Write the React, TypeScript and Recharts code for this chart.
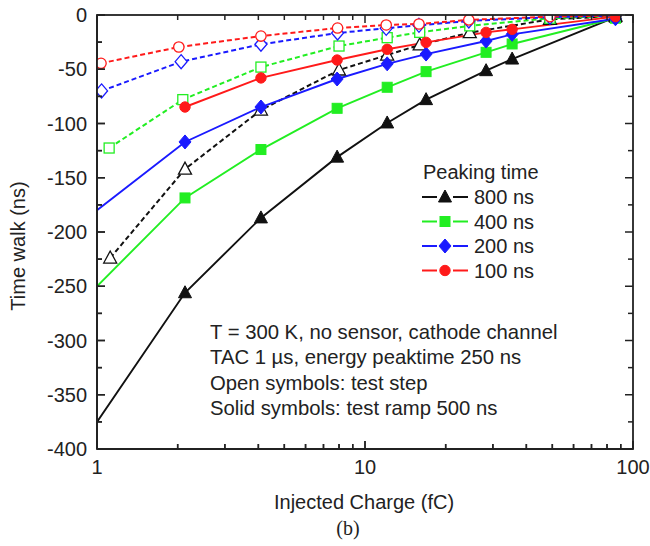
import { Line, LineChart, XAxis, YAxis } from "recharts";

// Injected charge (fC) for the test-ramp (solid) curves
const rampX = [1, 2.13, 4.09, 7.87, 12.1, 16.9, 28.3, 35.4, 86];
const ramp800 = [-375, -256, -187, -131, -99.5, -78, -51.3, -40.6, -2];
const ramp400 = [-250, -168.6, -124, -86, -66.6, -52.2, -34.4, -26.7, -3];
const ramp200 = [-180, -117, -84.8, -59, -45, -36, -24, -17.8, -3.5];
const ramp100 = [null, -84.8, -58, -41.5, -31.6, -25.2, -16, -13.2, -1.5];

// test-step (open symbols, dashed) curves
const step800X = [1.12, 2.13, 4.09, 8.0, 12.1, 16.0, 24.6, 49, 86];
const step800 = [-224, -142, -87.6, -50.7, -36.9, -27.6, -16.3, -4, -1];
const step400X = [1.11, 2.09, 4.09, 8.0, 12.1, 16.0, 24.6, 49, 86];
const step400 = [-122.6, -78, -48, -28.6, -20.9, -16, -10, -3, -1];
const step200X = [1.04, 2.06, 4.09, 7.9, 12.0, 15.9, 24.4, 49, 86];
const step200 = [-70, -43, -27, -16.6, -12.3, -9.5, -5.5, -2, -0.5];
const step100X = [1.035, 2.02, 4.09, 7.9, 12.0, 15.9, 24.4, 49, 86];
const step100 = [-44.5, -29.5, -19.4, -12, -9.2, -8.3, -4.5, -1.5, -0.5];

const peakingLabels = ["800 ns", "400 ns", "200 ns", "100 ns"];
const colors = ["#111111", "#22ee22", "#1a1aff", "#ff1a1a"];
const shapes = ["triangle", "square", "diamond", "circle"];

const xTicks = [1, 2, 3, 4, 5, 6, 7, 8, 9, 10, 20, 30, 40, 50, 60, 70, 80, 90, 100];
const xLabels = [1, 10, 100];
const yTicks = [-400, -375, -350, -325, -300, -275, -250, -225, -200, -175, -150, -125, -100, -75, -50, -25, 0];

const notes = [
  "T = 300 K, no sensor, cathode channel",
  "TAC 1 \u00b5s, energy peaktime 250 ns",
  "Open symbols: test step",
  "Solid symbols: test ramp 500 ns",
];

const FONT = "'Liberation Sans', Arial, sans-serif";
const INK = "#222";

// plot box (chart size minus margins and axis sizes)
const PLOT_L = 97;
const PLOT_T = 15;
const PLOT_W = 650 - 17 - 97;
const PLOT_H = 546 - 15 - 67 - 30;

const toPoints = (xs: number[], ys: (number | null)[]) =>
  xs.map((x, i) => ({ x, y: ys[i] })).filter((p) => p.y !== null);

const rampSeries = [ramp800, ramp400, ramp200, ramp100].map((ys, i) => ({
  data: toPoints(rampX, ys),
  color: colors[i],
  shape: shapes[i],
}));
const stepSeries = [
  [step800X, step800],
  [step400X, step400],
  [step200X, step200],
  [step100X, step100],
].map(([xs, ys], i) => ({
  data: toPoints(xs as number[], ys as number[]),
  color: colors[i],
  shape: shapes[i],
}));

function Marker({ shape, cx, cy, color, open }: any) {
  const fill = open ? "#fff" : color;
  const sw = open ? 1.3 : 1;
  if (shape === "triangle")
    return <polygon points={`${cx},${cy - 7} ${cx - 6.5},${cy + 5} ${cx + 6.5},${cy + 5}`} fill={fill} stroke={color} strokeWidth={sw} />;
  if (shape === "square")
    return <rect x={cx - 5} y={cy - 5} width={10} height={10} fill={fill} stroke={color} strokeWidth={sw} />;
  if (shape === "diamond")
    return <polygon points={`${cx},${cy - 7} ${cx + 6},${cy} ${cx},${cy + 7} ${cx - 6},${cy}`} fill={fill} stroke={color} strokeWidth={sw} />;
  return <circle cx={cx} cy={cy} r={5.2} fill={fill} stroke={color} strokeWidth={sw} />;
}

const makeDot = (shape: string, color: string, open: boolean) => (props: any) => {
  const { cx, cy, payload, index } = props;
  if (payload.x <= 1 || cx == null) return <g key={index} />;
  return (
    <g key={index}>
      <Marker shape={shape} cx={cx} cy={cy} color={color} open={open} />
    </g>
  );
};

const XTickBottom = ({ x, y, payload }: any) => {
  const major = xLabels.includes(payload.value);
  return (
    <g>
      <line x1={x} x2={x} y1={y} y2={y - (major ? 8 : 5)} stroke={INK} strokeWidth={1.5} />
      {major && (
        <text x={x} y={y + 25} textAnchor="middle" fontSize={20} fontFamily={FONT} fill={INK}>
          {payload.value}
        </text>
      )}
    </g>
  );
};

const YTickLeft = ({ x, y, payload }: any) => {
  const major = payload.value % 50 === 0;
  return (
    <g>
      <line x1={x} x2={x + (major ? 8 : 5)} y1={y} y2={y} stroke={INK} strokeWidth={1.5} />
      {major && (
        <text x={x - 10} y={y + 7} textAnchor="end" fontSize={20} fontFamily={FONT} fill={INK}>
          {payload.value}
        </text>
      )}
    </g>
  );
};

const axisLine = { stroke: INK, strokeWidth: 1.8 };

// closed frame with inward ticks on all four sides (same log / linear mapping as the axes)
function Frame() {
  const px = (t: number) => PLOT_L + (PLOT_W * Math.log10(t)) / 2;
  const py = (v: number) => PLOT_T + (PLOT_H * -v) / 400;
  const bottom = PLOT_T + PLOT_H;
  const right = PLOT_L + PLOT_W;
  return (
    <svg width={650} height={546} style={{ position: "absolute", left: 0, top: 0, pointerEvents: "none" }}>
      <rect x={PLOT_L} y={PLOT_T} width={PLOT_W} height={PLOT_H} fill="none" stroke={INK} strokeWidth={1.8} />
      {xTicks.map((t) => {
        const len = xLabels.includes(t) ? 8 : 5;
        return (
          <g key={"x" + t}>
            <line x1={px(t)} x2={px(t)} y1={bottom} y2={bottom - len} stroke={INK} strokeWidth={1.5} />
            <line x1={px(t)} x2={px(t)} y1={PLOT_T} y2={PLOT_T + len} stroke={INK} strokeWidth={1.5} />
          </g>
        );
      })}
      {yTicks.map((v) => {
        const len = v % 50 === 0 ? 8 : 5;
        return (
          <g key={"y" + v}>
            <line x1={PLOT_L} x2={PLOT_L + len} y1={py(v)} y2={py(v)} stroke={INK} strokeWidth={1.5} />
            <line x1={right} x2={right - len} y1={py(v)} y2={py(v)} stroke={INK} strokeWidth={1.5} />
          </g>
        );
      })}
    </svg>
  );
}

function LegendBox() {
  return (
    <svg width={200} height={130} style={{ position: "absolute", left: 410, top: 155 }}>
      <text x={13} y={24} fontSize={20} fontFamily={FONT} fill={INK}>
        Peaking time
      </text>
      {peakingLabels.map((label, i) => {
        const cy = 42 + i * 24.5;
        return (
          <g key={label}>
            <line x1={12} x2={58} y1={cy} y2={cy} stroke={colors[i]} strokeWidth={1.8} />
            <rect x={27} y={cy - 7} width={16} height={14} fill="#fff" />
            <Marker shape={shapes[i]} cx={35} cy={cy} color={colors[i]} open={false} />
            <text x={64} y={cy + 7} fontSize={20} fontFamily={FONT} fill={INK}>
              {label}
            </text>
          </g>
        );
      })}
    </svg>
  );
}

export default function App() {
  return (
    <div style={{ position: "absolute", left: 0, top: 0, width: 650, height: 546, background: "#fff" }}>
      <LineChart width={650} height={546} margin={{ top: 15, right: 17, bottom: 67, left: 0 }}>
        <XAxis
          xAxisId="b"
          dataKey="x"
          type="number"
          scale="log"
          domain={[1, 100]}
          allowDataOverflow
          ticks={xTicks}
          interval={0}
          height={30}
          tickSize={0}
          tickMargin={0}
          tickLine={false}
          axisLine={axisLine}
          tick={<XTickBottom />}
        />
        <YAxis
          yAxisId="l"
          type="number"
          domain={[-400, 0]}
          allowDataOverflow
          ticks={yTicks}
          interval={0}
          width={97}
          tickSize={0}
          tickMargin={0}
          tickLine={false}
          axisLine={axisLine}
          tick={<YTickLeft />}
        />

        {stepSeries.map((s, i) => (
          <Line
            key={"step" + i}
            xAxisId="b"
            yAxisId="l"
            data={s.data}
            dataKey="y"
            type="linear"
            stroke={s.color}
            strokeWidth={2}
            strokeDasharray="5 3"
            dot={makeDot(s.shape, s.color, true)}
            activeDot={false}
            isAnimationActive={false}
          />
        ))}
        {rampSeries.map((s, i) => (
          <Line
            key={"ramp" + i}
            xAxisId="b"
            yAxisId="l"
            data={s.data}
            dataKey="y"
            type="linear"
            stroke={s.color}
            strokeWidth={1.9}
            dot={makeDot(s.shape, s.color, false)}
            activeDot={false}
            isAnimationActive={false}
          />
        ))}
      </LineChart>

      <Frame />
      <LegendBox />

      <div style={{ position: "absolute", left: 210, top: 320, fontFamily: FONT, fontSize: 20.3, color: INK, lineHeight: "25.3px", whiteSpace: "nowrap" }}>
        {notes.map((n) => (
          <div key={n}>{n}</div>
        ))}
      </div>

      <div
        style={{
          position: "absolute",
          left: 18,
          top: 246,
          transform: "translate(-50%, -50%) rotate(-90deg)",
          fontFamily: FONT,
          fontSize: 20,
          color: INK,
          whiteSpace: "nowrap",
        }}
      >
        Time walk (ns)
      </div>
      <div
        style={{
          position: "absolute",
          left: 364,
          top: 502,
          transform: "translate(-50%, -50%)",
          fontFamily: FONT,
          fontSize: 20,
          color: INK,
          whiteSpace: "nowrap",
        }}
      >
        Injected Charge (fC)
      </div>
      <div
        style={{
          position: "absolute",
          left: 348,
          top: 528,
          transform: "translate(-50%, -50%)",
          fontFamily: "'Liberation Serif', 'Times New Roman', serif",
          fontSize: 20,
          color: INK,
          whiteSpace: "nowrap",
        }}
      >
        (b)
      </div>
    </div>
  );
}
